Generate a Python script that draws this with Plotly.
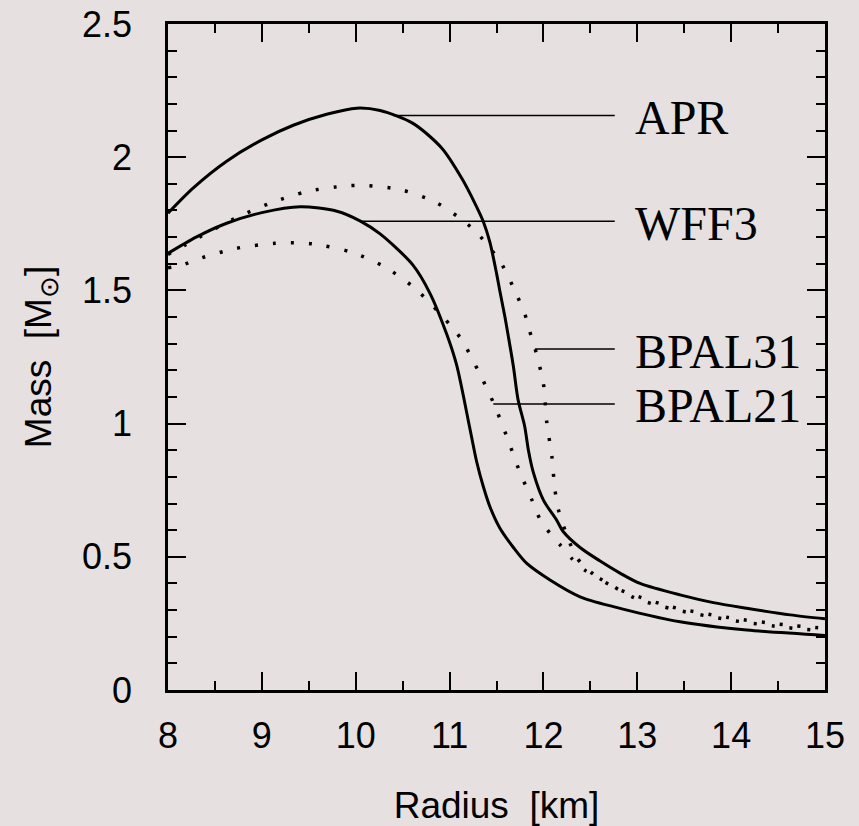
import plotly.graph_objects as go

# ---------------- data ----------------
apr_r = [8.0, 8.27, 8.625, 9.0, 9.335, 9.7, 10.01, 10.26, 10.61, 10.92, 11.13, 11.27, 11.36, 11.43,
         11.50, 11.54, 11.59, 11.625, 11.68, 11.73, 11.80, 11.84, 11.89, 12.0, 12.14, 12.21, 12.39,
         12.60, 12.82, 13.03, 13.455, 13.81, 14.165, 14.63, 15.0]
apr_m = [1.79, 1.885, 1.985, 2.065, 2.12, 2.162, 2.184, 2.175, 2.127, 2.033, 1.921, 1.827, 1.758, 1.680,
         1.565, 1.49, 1.40, 1.33, 1.214, 1.089, 0.99, 0.90, 0.82, 0.713, 0.638, 0.595, 0.535,
         0.485, 0.438, 0.40, 0.357, 0.328, 0.307, 0.282, 0.267]

wff3_r = [8.0, 8.3, 8.625, 9.0, 9.41, 9.8, 10.05, 10.26, 10.61, 10.79, 10.97, 11.075, 11.22, 11.29,
          11.36, 11.43, 11.54, 11.68, 11.82, 12.07, 12.39, 12.745, 13.455, 14.165, 15.0]
wff3_m = [1.639, 1.70, 1.752, 1.792, 1.814, 1.797, 1.76, 1.712, 1.595, 1.49, 1.335, 1.22, 0.975, 0.855,
          0.763, 0.688, 0.605, 0.535, 0.476, 0.413, 0.35, 0.313, 0.256, 0.225, 0.205]

bpal31_r = [8.0, 8.18, 8.71, 9.087, 9.48, 9.886, 10.09, 10.49, 10.86, 11.18, 11.32, 11.555, 11.72,
            11.80, 11.85, 11.91, 12.0, 12.035, 12.09, 12.12, 12.16, 12.28, 12.36, 12.50, 12.62,
            12.78, 12.975, 13.365, 13.97, 14.57, 15.0]
bpal31_m = [1.635, 1.67, 1.77, 1.827, 1.871, 1.892, 1.894, 1.877, 1.829, 1.752, 1.705, 1.599, 1.479,
            1.414, 1.351, 1.283, 1.149, 1.007, 0.876, 0.760, 0.676, 0.553, 0.494, 0.444, 0.413,
            0.381, 0.355, 0.312, 0.272, 0.245, 0.232]

bpal21_r = [8.0, 8.15, 8.34, 8.73, 9.14, 9.345, 9.55, 9.94, 10.29, 10.61, 10.88, 11.02, 11.13, 11.31,
            11.47, 11.61, 11.74, 11.885, 11.96, 12.07, 12.18, 12.30, 12.44, 12.60, 12.975, 13.4,
            14.0, 14.6, 15.0]
bpal21_m = [1.585, 1.595, 1.62, 1.658, 1.677, 1.679, 1.674, 1.645, 1.592, 1.514, 1.42, 1.364, 1.314, 1.195,
            1.076, 0.951, 0.826, 0.707, 0.644, 0.588, 0.544, 0.494, 0.45, 0.419, 0.345, 0.302,
            0.262, 0.234, 0.222]

label_names = ["APR", "WFF3", "BPAL31", "BPAL21"]
label_mass = [2.157, 1.76, 1.28, 1.074]
label_r_start = [10.40, 10.045, 11.91, 11.466]
label_r_end = [12.76, 12.76, 12.76, 12.76]
label_text_r = 12.975

x_ticks = [8, 9, 10, 11, 12, 13, 14, 15]
y_ticks = [0, 0.5, 1, 1.5, 2, 2.5]
y_tick_text = ["0", "0.5", "1", "1.5", "2", "2.5"]

# ---------------- figure ----------------
BG = "#e6e1e0"
fig = go.Figure()

solid = dict(color="black", width=3, shape="spline", smoothing=0.8)
dotted = dict(color="black", width=3.5, dash="3px,15px", shape="spline", smoothing=0.8)

fig.add_trace(go.Scatter(x=apr_r, y=apr_m, mode="lines", line=solid, name="APR"))
fig.add_trace(go.Scatter(x=wff3_r, y=wff3_m, mode="lines", line=solid, name="WFF3"))
fig.add_trace(go.Scatter(x=bpal31_r, y=bpal31_m, mode="lines", line=dotted, name="BPAL31"))
fig.add_trace(go.Scatter(x=bpal21_r, y=bpal21_m, mode="lines", line=dotted, name="BPAL21"))

for name, m, r0, r1 in zip(label_names, label_mass, label_r_start, label_r_end):
    fig.add_trace(go.Scatter(x=[r0, r1], y=[m, m], mode="lines",
                             line=dict(color="black", width=1.5), hoverinfo="skip"))
    fig.add_annotation(x=label_text_r, y=m, text=name, showarrow=False,
                       xanchor="left", yanchor="middle", xshift=-2, yshift=-2,
                       font=dict(family="Liberation Serif", size=48, color="black"))

axis_common = dict(
    showgrid=False, zeroline=False, automargin=False,
    showline=True, linecolor="black", linewidth=2.5,
    mirror="allticks", ticks="inside", tickcolor="black", tickwidth=2, ticklen=18,
    tickfont=dict(family="Liberation Sans", size=36, color="black"),
)

fig.update_xaxes(
    range=[8, 15], tickvals=x_ticks,
    minor=dict(dtick=0.5, ticks="inside", ticklen=9, tickwidth=2, tickcolor="black"),
    ticklabelstandoff=12,
    title=dict(text="Radius  [km]", font=dict(family="Liberation Sans", size=37, color="black"),
               standoff=40),
    **axis_common,
)
fig.update_yaxes(
    range=[0, 2.5], tickvals=y_ticks, ticktext=y_tick_text,
    minor=dict(dtick=0.1, ticks="inside", ticklen=9, tickwidth=2, tickcolor="black"),
    ticklabelstandoff=26,
    title=dict(text="Mass  [M<sub>⊙</sub>]", font=dict(family="Liberation Sans", size=37, color="black"),
               standoff=20),
    **axis_common,
)

fig.update_layout(
    width=859, height=826,
    margin=dict(l=168, r=34, t=24, b=136),
    paper_bgcolor=BG, plot_bgcolor=BG,
    showlegend=False,
)

fig.write_html("out.html")
